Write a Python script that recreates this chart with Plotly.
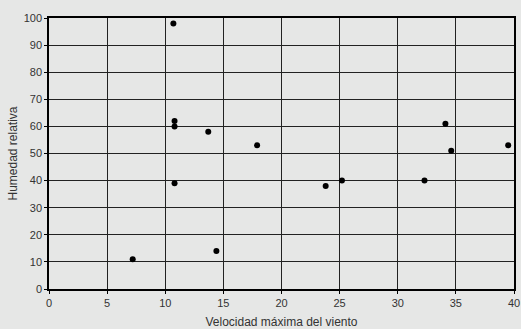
import plotly.graph_objects as go

velocidad = [10.7, 10.8, 10.8, 13.7, 17.9, 34.1, 34.6, 39.5, 10.8, 7.2, 14.4, 23.8, 25.2, 32.3]
humedad = [98, 62, 60, 58, 53, 61, 51, 53, 39, 11, 14, 38, 40, 40]
x_ticks = [0, 5, 10, 15, 20, 25, 30, 35, 40]
y_ticks = [0, 10, 20, 30, 40, 50, 60, 70, 80, 90, 100]

bg = "#e6e7e6"
fig = go.Figure(go.Scatter(
    x=velocidad, y=humedad, mode="markers",
    marker=dict(color="black", size=6),
    cliponaxis=False,
))

fig.update_layout(
    width=521, height=329,
    margin=dict(l=49, r=7, t=18, b=40),
    paper_bgcolor=bg, plot_bgcolor=bg,
    showlegend=False,
    font=dict(family="Liberation Sans, Arial, sans-serif", size=11, color="#333"),
)
fig.update_xaxes(
    range=[0, 40], tickvals=x_ticks, showgrid=True, gridcolor="#222", gridwidth=1,
    showline=True, linecolor="black", linewidth=1.5, mirror=True,
    ticks="outside", ticklen=3, tickcolor="black",
    zeroline=False, automargin=False,
    title=dict(text="Velocidad máxima del viento", font=dict(size=12), standoff=10),
)
fig.update_yaxes(
    range=[0, 100], tickvals=y_ticks, showgrid=True, gridcolor="#222", gridwidth=1,
    showline=True, linecolor="black", linewidth=1.5, mirror=True,
    ticks="outside", ticklen=3, tickcolor="black",
    zeroline=False, automargin=False,
    title=dict(text="Humedad relativa", font=dict(size=12), standoff=3),
)

fig.write_html("out.html")
